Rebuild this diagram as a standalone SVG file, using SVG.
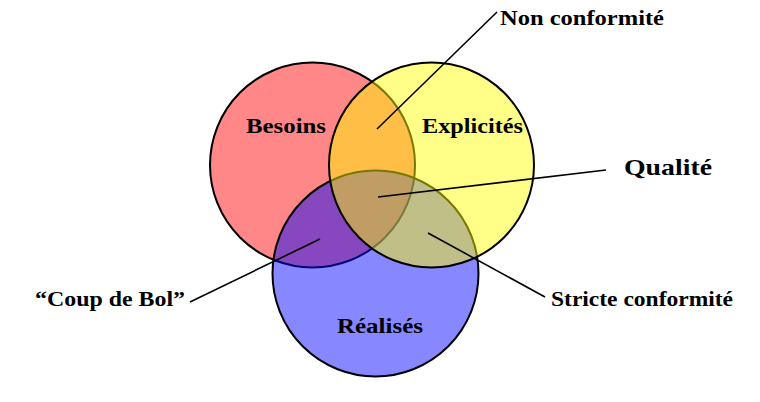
<svg xmlns="http://www.w3.org/2000/svg" width="760" height="402" viewBox="0 0 760 402">
<style>
.c{stroke:#000;stroke-width:2}
.t{font-family:"Liberation Serif","DejaVu Serif",serif;font-weight:bold;fill:#000}
.l{stroke:#000;stroke-width:1.6;fill:none}
</style>
<rect width="760" height="402" fill="#fff"/>
<g id="besoins">
<circle class="c" cx="312.5" cy="165" r="102.5" fill="rgba(255,0,0,0.47)"/>
<text class="t" x="246" y="133" font-size="22" textLength="80" lengthAdjust="spacingAndGlyphs">Besoins</text>
</g>
<g id="realises">
<circle class="c" cx="375.5" cy="273.5" r="103" fill="rgba(0,0,255,0.47)"/>
<text class="t" x="337" y="333" font-size="22" textLength="86" lengthAdjust="spacingAndGlyphs">Réalisés</text>
</g>
<g id="explicites">
<circle class="c" cx="431.5" cy="165" r="102.5" fill="rgba(255,255,0,0.47)"/>
<text class="t" x="422" y="133" font-size="22" textLength="101" lengthAdjust="spacingAndGlyphs">Explicités</text>
</g>
<g id="connectors">
<line class="l" x1="377" y1="129" x2="497" y2="12"/>
<line class="l" x1="378" y1="197" x2="606" y2="170"/>
<line class="l" x1="320" y1="239" x2="190" y2="302"/>
<line class="l" x1="428" y1="233" x2="545" y2="297"/>
</g>
<g id="non-conformite">
<text class="t" x="500" y="25" font-size="21" textLength="164" lengthAdjust="spacingAndGlyphs">Non conformité</text>
</g>
<g id="qualite">
<text class="t" x="624" y="175" font-size="24" textLength="88" lengthAdjust="spacingAndGlyphs">Qualité</text>
</g>
<g id="coup-de-bol">
<text class="t" x="35" y="306" font-size="22" textLength="150" lengthAdjust="spacingAndGlyphs">“Coup de Bol”</text>
</g>
<g id="stricte-conformite">
<text class="t" x="551" y="306" font-size="21" textLength="182" lengthAdjust="spacingAndGlyphs">Stricte conformité</text>
</g>
</svg>
